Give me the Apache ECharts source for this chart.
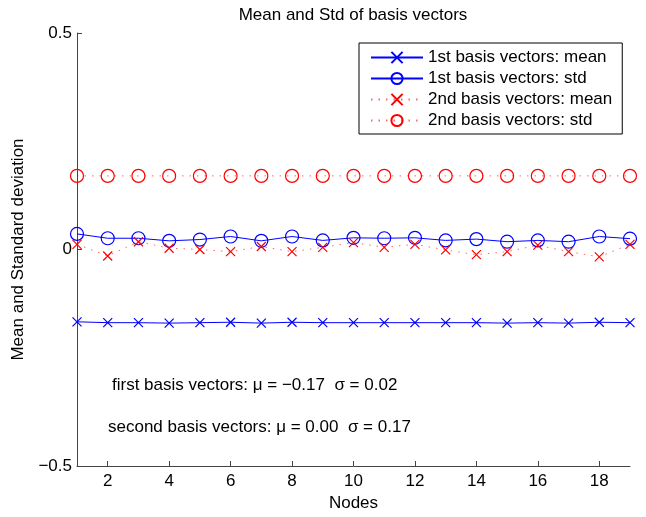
<!DOCTYPE html>
<html>
<head>
<meta charset="utf-8">
<script src="https://cdn.jsdelivr.net/npm/echarts@6/dist/echarts.min.js"></script>
<style>
  html, body { margin: 0; padding: 0; background: #ffffff; }
  #chart { width: 646px; height: 517px; }
</style>
</head>
<body>
<div id="chart"></div>
<script>
// node index on the x axis
const nodes = [1, 2, 3, 4, 5, 6, 7, 8, 9, 10, 11, 12, 13, 14, 15, 16, 17, 18, 19]
// values
const firstMean = [-0.167, -0.169, -0.169, -0.170, -0.169, -0.168, -0.170, -0.168, -0.169, -0.169,
  -0.169, -0.169, -0.169, -0.169, -0.170, -0.169, -0.170, -0.168, -0.169]
const firstStd = [0.036, 0.026, 0.026, 0.020, 0.023, 0.030, 0.020, 0.030, 0.021, 0.027,
  0.026, 0.027, 0.021, 0.024, 0.018, 0.021, 0.018, 0.030, 0.025]
const secondMean = [0.012, -0.015, 0.018, 0.003, 0.000, -0.005, 0.007, -0.005, 0.005, 0.016,
  0.005, 0.012, -0.001, -0.012, -0.005, 0.010, -0.005, -0.017, 0.012]
const secondStd = [0.170, 0.170, 0.170, 0.170, 0.170, 0.170, 0.170, 0.170, 0.170, 0.170,
  0.170, 0.170, 0.170, 0.170, 0.170, 0.170, 0.170, 0.170, 0.170]
const xTicks = [2, 4, 6, 8, 10, 12, 14, 16, 18]
const seriesNames = [
  '1st basis vectors: mean',
  '1st basis vectors: std',
  '2nd basis vectors: mean',
  '2nd basis vectors: std'
]
const notes = [
  'first basis vectors: \u03bc = \u22120.17  \u03c3 = 0.02',
  'second basis vectors: \u03bc = 0.00  \u03c3 = 0.17'
]

const FONT = 'Liberation Sans'
const BLUE = '#0000ff'
const RED = '#ff0000'
const CROSS = 'path://M0,0L10,10M10,0L0,10'

function pairs(values) {
  return values.map((v, i) => [nodes[i], v])
}

function makeSeries(name, values, color, symbol, size, dotted) {
  return {
    name: name,
    type: 'line',
    data: pairs(values),
    symbol: symbol,
    symbolSize: size,
    showAllSymbol: true,
    animation: false,
    itemStyle: {
      color: 'transparent',
      borderColor: color,
      borderWidth: 1.2
    },
    lineStyle: dotted
      ? { color: color, width: 1, type: [1.5, 6], opacity: 0.6 }
      : { color: color, width: 1 }
  }
}

const chart = echarts.init(document.getElementById('chart'))

chart.setOption({
  backgroundColor: '#ffffff',
  animation: false,
  textStyle: { fontFamily: FONT },
  title: {
    text: 'Mean and Std of basis vectors',
    left: 353,
    textAlign: 'center',
    top: 7,
    padding: 0,
    textStyle: { fontFamily: FONT, fontSize: 17, fontWeight: 'normal', color: '#000' }
  },
  grid: {
    left: 77,
    right: 16,
    top: 33,
    bottom: 46
  },
  legend: {
    orient: 'vertical',
    left: 359,
    top: 43,
    padding: [6, 10, 5, 11],
    itemWidth: 52,
    itemHeight: 14,
    itemGap: 4,
    borderColor: '#000',
    borderWidth: 1,
    backgroundColor: '#fff',
    textStyle: { fontFamily: FONT, fontSize: 17, color: '#000', lineHeight: 17 },
    data: seriesNames
  },
  xAxis: {
    type: 'value',
    min: 1,
    max: 19,
    name: 'Nodes',
    nameLocation: 'middle',
    nameGap: 29,
    nameTextStyle: { fontFamily: FONT, fontSize: 17, color: '#000' },
    splitLine: { show: false },
    axisLine: { onZero: false, lineStyle: { color: '#444', width: 1 } },
    axisTick: { inside: true, length: 5, customValues: xTicks, lineStyle: { color: '#444' } },
    axisLabel: { customValues: xTicks, margin: 7, fontFamily: FONT, fontSize: 17, color: '#000' }
  },
  yAxis: {
    type: 'value',
    min: -0.5,
    max: 0.5,
    interval: 0.5,
    name: 'Mean and Standard deviation',
    nameLocation: 'middle',
    nameGap: 50,
    nameTextStyle: { fontFamily: FONT, fontSize: 17, color: '#000' },
    splitLine: { show: false },
    axisLine: { show: true, onZero: false, lineStyle: { color: '#444', width: 1 } },
    axisTick: { show: true, inside: true, length: 5, lineStyle: { color: '#444' } },
    axisLabel: {
      margin: 5,
      fontFamily: FONT,
      fontSize: 17,
      color: '#000',
      formatter: v => (v === 0 ? '0' : String(v).replace('-', '\u2212'))
    }
  },
  graphic: [
    {
      type: 'text',
      x: 112,
      y: 385,
      style: { text: notes[0], fontFamily: FONT, fontSize: 17, fill: '#000', verticalAlign: 'middle' }
    },
    {
      type: 'text',
      x: 108,
      y: 427,
      style: { text: notes[1], fontFamily: FONT, fontSize: 17, fill: '#000', verticalAlign: 'middle' }
    }
  ],
  series: [
    makeSeries(seriesNames[0], firstMean, BLUE, CROSS, 9, false),
    makeSeries(seriesNames[1], firstStd, BLUE, 'circle', 13, false),
    makeSeries(seriesNames[2], secondMean, RED, CROSS, 9, true),
    makeSeries(seriesNames[3], secondStd, RED, 'circle', 13, true)
  ]
})
</script>
</body>
</html>
